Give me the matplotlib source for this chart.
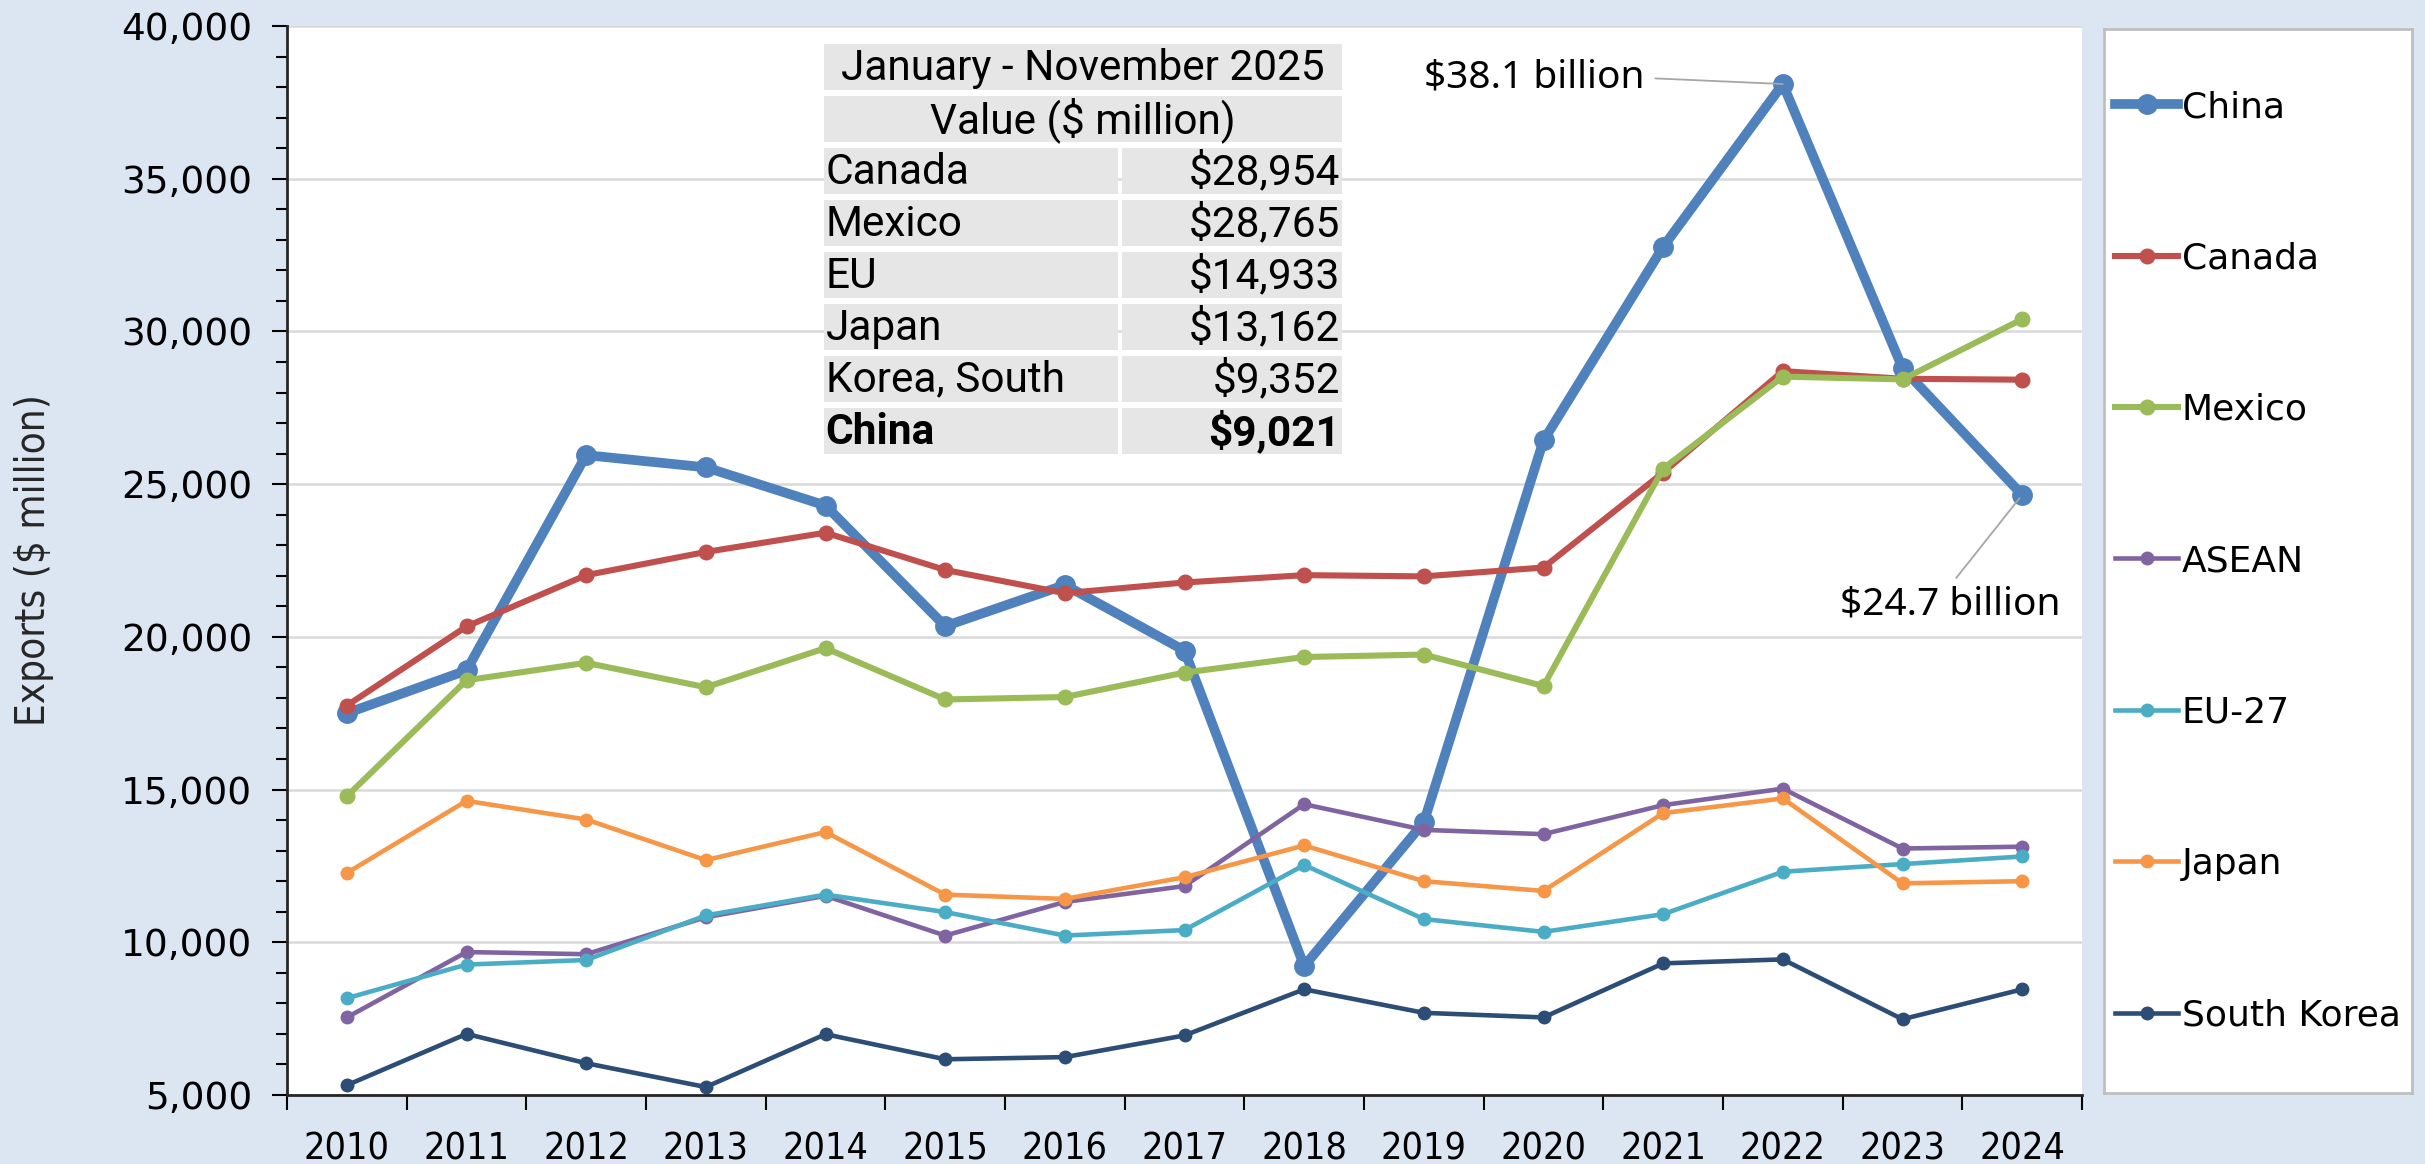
import matplotlib.pyplot as plt
from matplotlib.patches import Rectangle

# Data (US exports, $ million)
years = ['2010', '2011', '2012', '2013', '2014', '2015', '2016', '2017',
         '2018', '2019', '2020', '2021', '2022', '2023', '2024']

china = [17500, 18900, 25950, 25550, 24300, 20350, 21700, 19550, 9220, 13930, 26430, 32770, 38100, 28800, 24650]
canada = [17750, 20340, 22020, 22780, 23410, 22190, 21430, 21780, 22020, 21980, 22270, 25380, 28700, 28450, 28420]
mexico = [14780, 18580, 19150, 18350, 19630, 17950, 18030, 18830, 19340, 19420, 18390, 25510, 28520, 28430, 30400]
asean = [7540, 9680, 9610, 10820, 11520, 10220, 11320, 11840, 14520, 13680, 13540, 14490, 15030, 13070, 13130]
eu27 = [8170, 9270, 9420, 10880, 11560, 10990, 10220, 10400, 12530, 10760, 10340, 10920, 12310, 12560, 12810]
japan = [12270, 14630, 14020, 12690, 13610, 11560, 11420, 12130, 13170, 12000, 11680, 14230, 14710, 11930, 12000]
south_korea = [5320, 7000, 6040, 5260, 6990, 6170, 6240, 6950, 8460, 7690, 7540, 9310, 9440, 7480, 8460]

series_names = ['China', 'Canada', 'Mexico', 'ASEAN', 'EU-27', 'Japan', 'South Korea']
series_values = [china, canada, mexico, asean, eu27, japan, south_korea]
series_colors = ['#4F81BD', '#C0504D', '#9BBB59', '#8064A2', '#4BACC6', '#F79646', '#2C4D75']
series_widths = [7.0, 4.4, 4.4, 3.3, 3.3, 3.3, 3.3]
series_markers = [14, 10.5, 10.5, 9, 9, 9, 9]

# Table: January - November 2025
table_title = 'January - November 2025'
table_subtitle = 'Value ($ million)'
table_countries = ['Canada', 'Mexico', 'EU', 'Japan', 'Korea, South', 'China']
table_values = [28954, 28765, 14933, 13162, 9352, 9021]

# Figure geometry in pixels
W, H = 2425, 1164
BG = '#DCE6F2'
narrow = ['DejaVu Sans Condensed', 'Liberation Sans Narrow', 'DejaVu Sans']


def px_axes(left, top, right, bottom):
    return [left / W, (H - bottom) / H, (right - left) / W, (bottom - top) / H]


fig = plt.figure(figsize=(W / 100, H / 100), dpi=100, facecolor=BG)

ax = fig.add_axes(px_axes(287, 26, 2082, 1095))
ax.set_facecolor('white')

lines = []
for name, vals, col, lw, ms in zip(series_names, series_values, series_colors, series_widths, series_markers):
    ln, = ax.plot(range(len(years)), vals, color=col, lw=lw, marker='o', ms=ms,
                  label=name, solid_joinstyle='round')
    lines.append(ln)

ax.set_xlim(-0.5, len(years) - 0.5)
ax.set_ylim(5000, 40000)
ax.set_yticks(range(5000, 40001, 5000))
ax.set_yticks(range(5000, 40001, 1000), minor=True)
ax.yaxis.set_major_formatter(plt.FuncFormatter(lambda v, p: f'{int(v):,}'))
ax.set_xticks(range(len(years)))
ax.set_xticklabels(years, family=narrow, stretch='condensed', fontsize=27)
ax.set_xticks([i - 0.5 for i in range(len(years) + 1)], minor=True)

ax.tick_params(axis='x', which='major', length=0, pad=26)
ax.tick_params(axis='x', which='minor', length=11, width=1.5, direction='out')
ax.tick_params(axis='y', which='major', length=11, width=1.5, labelsize=27, pad=14)
ax.tick_params(axis='y', which='minor', length=8, width=1.5)

ax.grid(axis='y', which='major', color='#D9D9D9', lw=1.8)
ax.set_axisbelow(True)
for s in ['top', 'right']:
    ax.spines[s].set_visible(False)
for s in ['left', 'bottom']:
    ax.spines[s].set_linewidth(2)
    ax.spines[s].set_color('#262626')

ax.set_ylabel('Exports ($ million)', family=narrow, stretch='condensed',
              fontsize=29, color='#262626')
ax.yaxis.set_label_coords(-(287 - 54) / 1795, 0.5)

# annotations
ann_font = 'Noto Sans'
ax.annotate('$38.1 billion', xy=(12, china[12]), xytext=(9.0, 38300),
            fontsize=28, family=ann_font, ha='left', va='center',
            arrowprops=dict(arrowstyle='-', color='#A6A6A6', lw=1.3,
                            relpos=(1, 0.5), shrinkA=6, shrinkB=0))
ax.annotate('$24.7 billion', xy=(14, china[14]), xytext=(12.48, 21070),
            fontsize=28, family=ann_font, ha='left', va='center',
            arrowprops=dict(arrowstyle='-', color='#A6A6A6', lw=1.3,
                            relpos=(0.5, 1), shrinkA=4, shrinkB=3))

# table drawn over the plot
tax = fig.add_axes(px_axes(824, 41, 1342, 457))
tax.set_xlim(0, 1)
tax.set_ylim(8, 0)
tax.axis('off')
split = (1120 - 824) / 518
gap_x, gap_y = 0.004, 0.05
cell_col = '#E7E6E6'
for r in range(8):
    if r < 2:
        tax.add_patch(Rectangle((0, r + gap_y), 1, 1 - 2 * gap_y, color=cell_col, lw=0))
    else:
        tax.add_patch(Rectangle((0, r + gap_y), split - gap_x, 1 - 2 * gap_y, color=cell_col, lw=0))
        tax.add_patch(Rectangle((split + gap_x, r + gap_y), 1 - split - gap_x, 1 - 2 * gap_y, color=cell_col, lw=0))

tfont = dict(family='Roboto', fontsize=30.5, va='center')
tax.text(0.5, 0.52, table_title, ha='center', **tfont)
tax.text(0.5, 1.52, table_subtitle, ha='center', **tfont)
for i, (c, v) in enumerate(zip(table_countries, table_values)):
    wt = 'bold' if c == 'China' else 'normal'
    tax.text(0.003, i + 2.52, c, ha='left', weight=wt, **tfont)
    tax.text(0.997, i + 2.52, f'${v:,}', ha='right', weight=wt, **tfont)

# legend in its own box on the right
lax = fig.add_axes(px_axes(2104, 29, 2412, 1093))
lax.set_facecolor('white')
lax.set_xticks([])
lax.set_yticks([])
for s in lax.spines.values():
    s.set_color('#BFBFBF')
    s.set_linewidth(2)
lax.legend(handles=lines, labels=series_names, loc='upper left',
           bbox_to_anchor=(11 / 308, 1 - 61 / 1064), borderaxespad=0, borderpad=0,
           frameon=False, fontsize=26, labelspacing=3.25, handlelength=1.75,
           handletextpad=0.1, numpoints=1)

fig.savefig('out.png', dpi=100, facecolor=BG)
